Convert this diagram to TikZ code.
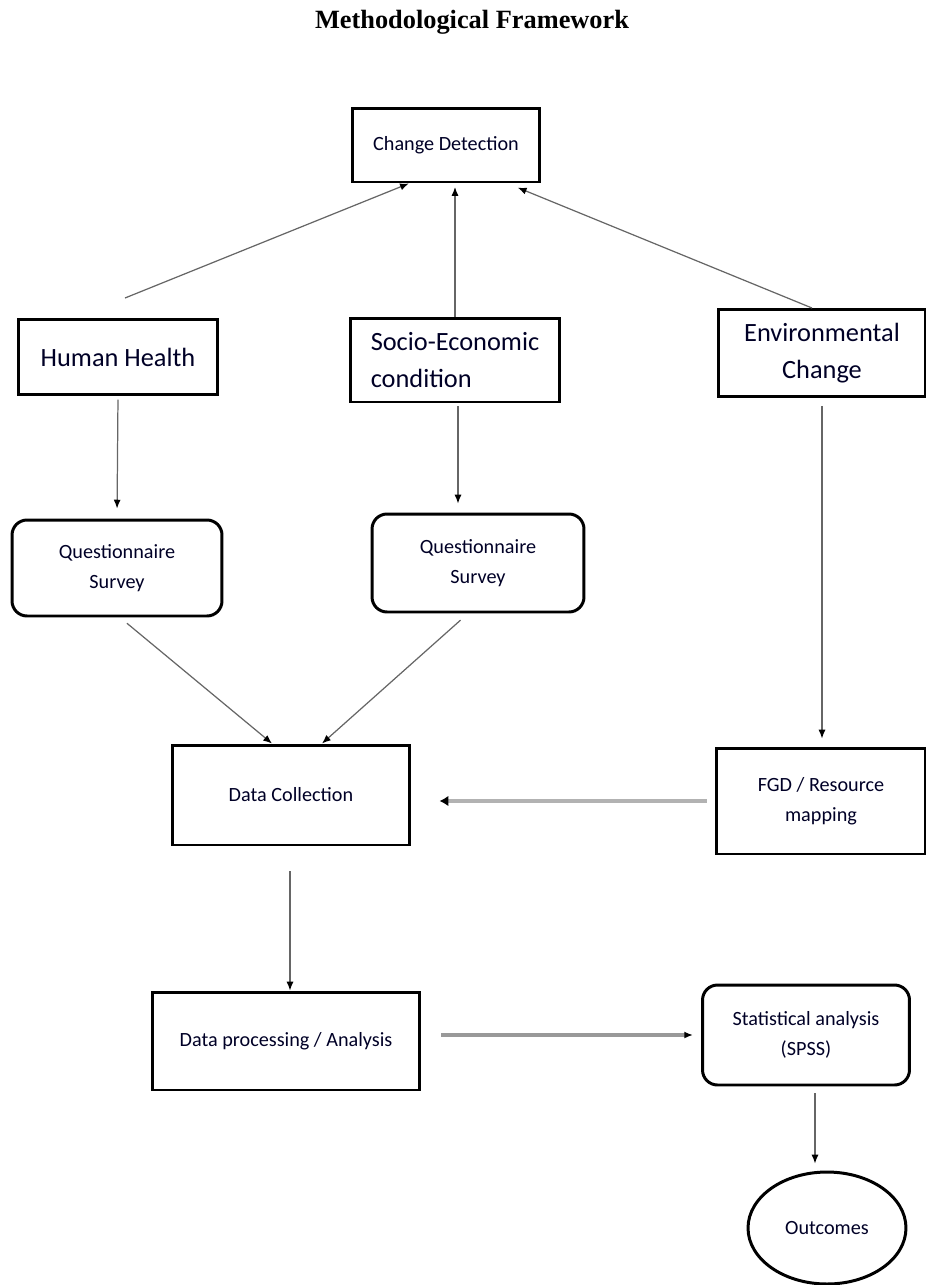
\documentclass[tikz,border=0pt]{standalone}
\usepackage{fontspec}
\setmainfont{Carlito}
\newfontfamily\titlefont{Liberation Serif}
\usetikzlibrary{arrows.meta,shapes.geometric}

\begin{document}
\begin{tikzpicture}[x=0.02cm, y=-0.02cm]
    \tikzset{
      Box/.style = {draw=black, line width=1.7pt, align=center, inner sep=2pt,
                    font=\fontsize{11.5}{17}\selectfont, text=black!85!blue},
      BigBox/.style = {Box, font=\fontsize{15}{21}\selectfont},
      RoundBox/.style = {Box, rounded corners=0.3cm},
      Link/.style = {draw=black!60, line width=0.7pt, -{Latex[length=5pt,width=4pt,black]}},
      FatLink/.style = {Link, draw=black!30, line width=2.8pt, -{Latex[length=5pt,width=6pt,black]}}
    }
    \useasboundingbox (0,0) rectangle (926,1285);

    % Title
    \node[font=\titlefont\bfseries\fontsize{15}{18}\selectfont] (title) at (472,22) {Methodological Framework};

    % Vertices
    \node[Box, minimum width=3.76cm, minimum height=1.48cm] (chg) at (446,145) {Change Detection};
    \node[BigBox, minimum width=4cm, minimum height=1.5cm] (hh) at (118,357) {Human Health};
    \node[BigBox, align=left, minimum width=4.2cm, minimum height=1.68cm] (soc) at (455,360) {Socio-Economic\\condition};
    \node[BigBox, minimum width=4.16cm, minimum height=1.74cm] (env) at (822,353) {Environmental\\Change};
    \node[RoundBox, minimum width=4.2cm, minimum height=1.92cm] (q1) at (117,568) {Questionnaire\\Survey};
    \node[RoundBox, minimum width=4.24cm, minimum height=1.96cm] (q2) at (478,563) {Questionnaire\\Survey};
    \node[Box, minimum width=4.76cm, minimum height=2cm] (dc) at (291,795) {Data Collection};
    \node[Box, minimum width=4.2cm, minimum height=2.12cm] (fgd) at (821,801) {FGD / Resource\\mapping};
    \node[Box, minimum width=5.36cm, minimum height=1.96cm] (dp) at (286,1041) {Data processing / Analysis};
    \node[RoundBox, minimum width=4.14cm, minimum height=2cm] (sa) at (806,1035) {Statistical analysis\\(SPSS)};
    \node[Box, ellipse, inner sep=0pt, minimum width=3.16cm, minimum height=2.24cm] (out) at (827,1228) {Outcomes};
    \coordinate (hhtop) at (125,298);

    % Edges
    \draw[Link] (hhtop) -- (chg.226);
    \draw[Link, shorten >=2pt] (soc.north) -- (soc.north |- chg.south);
    \draw[Link, shorten >=0.22cm] ([xshift=-0.2cm]env.north) -- (chg.328);
    \draw[Link, shorten <=2pt, shorten >=0.2cm] (hh.south) -- (q1.north);
    \draw[Link, shorten <=0.06cm, shorten >=0.18cm] ([xshift=0.06cm]soc.south) -- ([xshift=0.06cm]soc.south |- q2.north);
    \draw[Link, shorten <=0.16cm, shorten >=0.16cm] (env.south) -- (env.south |- fgd.north);
    \draw[Link, shorten <=0.18cm] ([xshift=0.06cm]q1.south) -- ([xshift=-0.38cm]dc.north);
    \draw[Link, shorten <=0.2cm] ([xshift=-0.2cm]q2.south) -- ([xshift=0.62cm]dc.north);
    \draw[FatLink, shorten <=0.16cm, shorten >=0.56cm] (fgd.west) -- (fgd.west -| dc.east);
    \draw[Link, shorten <=0.5cm] ([xshift=-0.02cm]dc.south) -- ([xshift=-0.02cm]dc.south |- dp.north);
    \draw[Link, draw=black!40, line width=2pt, shorten <=0.4cm, shorten >=0.16cm] (dp.east |- sa.west) -- (sa.west);
    \draw[Link, shorten <=0.14cm, shorten >=0.14cm] ([xshift=0.18cm]sa.south) -- ([xshift=0.18cm]sa.south |- out.north);
\end{tikzpicture}
\end{document}
